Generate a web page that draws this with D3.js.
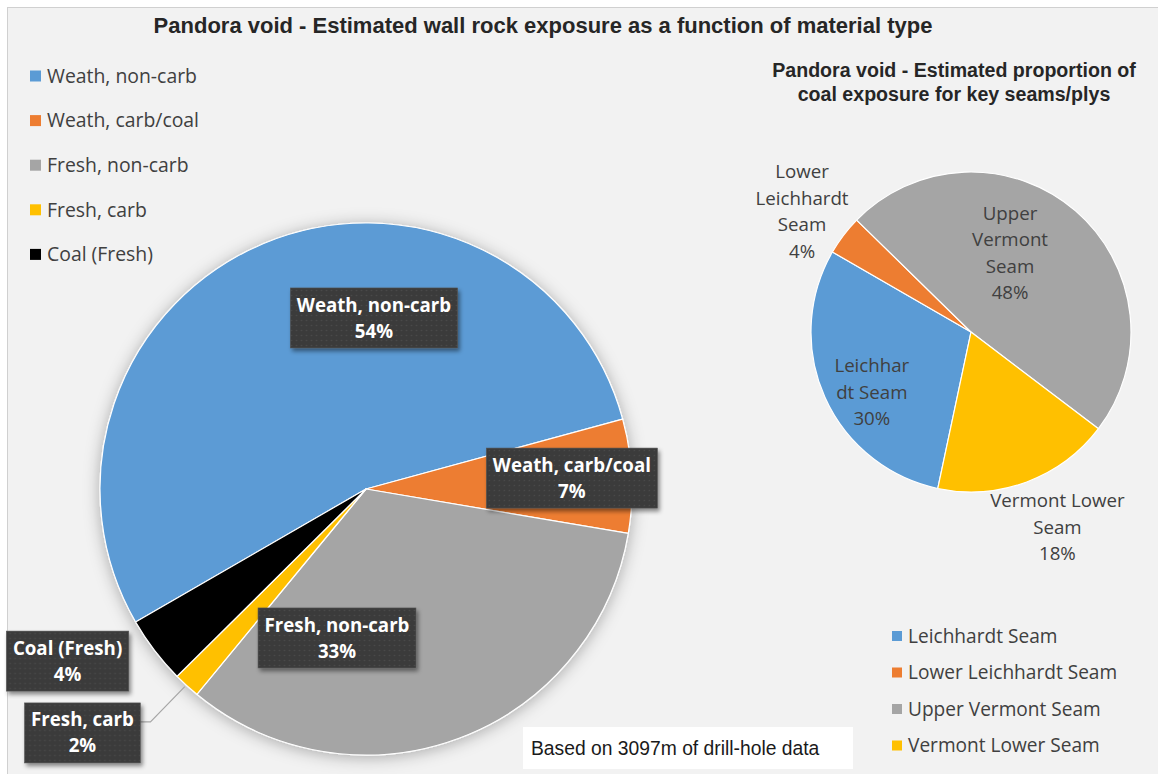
<!DOCTYPE html>
<html><head><meta charset="utf-8">
<script src="https://cdn.jsdelivr.net/npm/d3@7"></script>
<style>body{margin:0;background:#fff}svg{display:block}</style>
</head><body>
<svg id="chart" width="1158" height="774"></svg>
<script>
// ---------------- DATA ----------------
const mainTitle = "Pandora void - Estimated wall rock exposure as a function of material type";
const materialCategories = ["Weath, non-carb", "Weath, carb/coal", "Fresh, non-carb", "Fresh, carb", "Coal (Fresh)"];
const materialValues = [54.1, 6.9, 33.3, 1.6, 4.1];
const materialColors = ["#5B9BD5", "#ED7D31", "#A5A5A5", "#FFC000", "#000000"];

const seamTitle = ["Pandora void - Estimated proportion of", "coal exposure for key seams/plys"];
const seamCategories = ["Leichhardt Seam", "Lower Leichhardt Seam", "Upper Vermont Seam", "Vermont Lower Seam"];
const seamValues = [30, 4, 48, 18];
const seamColors = ["#5B9BD5", "#ED7D31", "#A5A5A5", "#FFC000"];
const seamLabelLines = [["Leichhar", "dt Seam"], ["Lower", "Leichhardt", "Seam"], ["Upper", "Vermont", "Seam"], ["Vermont Lower", "Seam"]];

const noteText = "Based on 3097m of drill-hole data";

// ---------------- LAYOUT ----------------
const W = 1158, H = 774;
const mainPie = {cx: 366, cy: 489, r: 266, start: 240};
// label box centres relative to pie centre, in radius units
const mainLabelPos = [[0.03, -0.643], [0.774, -0.041], [-0.109, 0.56], [-1.066, 0.917], [-1.122, 0.647]];
const seamPie = {cx: 971, cy: 332, r: 160, start: 192};
const seamLabelPos = [[-0.62, 0.375], [-1.056, -0.753], [0.244, -0.494], [0.54, 1.22]];

const sansUI = "'Open Sans', 'Noto Sans', sans-serif";
const sansArial = "'Liberation Sans', Arial, sans-serif";
const textColor = "#404040";

const svg = d3.select("#chart");
const defs = svg.append("defs");

// pattern for dark label boxes
const pat = defs.append("pattern").attr("id", "dots").attr("width", 5).attr("height", 5)
  .attr("patternUnits", "userSpaceOnUse");
pat.append("rect").attr("width", 5).attr("height", 5).attr("fill", "#3b3b3b");
pat.append("circle").attr("cx", 2.5).attr("cy", 2.5).attr("r", 0.8).attr("fill", "#4a4a4a");

const boxShadow = defs.append("filter").attr("id", "boxShadow").attr("x", "-20%").attr("y", "-20%").attr("width", "150%").attr("height", "150%");
boxShadow.append("feDropShadow").attr("dx", 2).attr("dy", 3).attr("stdDeviation", 2)
  .attr("flood-color", "#000").attr("flood-opacity", 0.45);

const pieShadow = defs.append("filter").attr("id", "pieShadow").attr("x", "-20%").attr("y", "-20%").attr("width", "140%").attr("height", "140%");
pieShadow.append("feDropShadow").attr("dx", 0).attr("dy", 2).attr("stdDeviation", 8)
  .attr("flood-color", "#000").attr("flood-opacity", 0.3);

// chart background
svg.append("rect").attr("x", 7.5).attr("y", 7.5).attr("width", W).attr("height", H)
  .attr("fill", "#F2F2F2").attr("stroke", "#D0D0D0").attr("stroke-width", 1);

// main title
svg.append("text").attr("x", 543).attr("y", 25).attr("dy", "0.35em")
  .attr("text-anchor", "middle").attr("font-family", sansArial).attr("font-weight", "bold")
  .attr("font-size", 22).attr("fill", "#262626").text(mainTitle);

// ---------------- MAIN PIE ----------------
const deg = Math.PI / 180;
const pieMain = d3.pie().sort(null).value(d => d)
  .startAngle(mainPie.start * deg).endAngle((mainPie.start + 360) * deg);
const arcsMain = pieMain(materialValues);
const arcMain = d3.arc().innerRadius(0).outerRadius(mainPie.r);
const colorMain = d3.scaleOrdinal().domain(materialCategories).range(materialColors);
const totalMain = d3.sum(materialValues);

const gMain = svg.append("g").attr("transform", `translate(${mainPie.cx},${mainPie.cy})`);
gMain.append("g").attr("filter", "url(#pieShadow)")
  .selectAll("path").data(arcsMain).join("path")
  .attr("d", arcMain).attr("fill", (d, i) => colorMain(materialCategories[i]))
  .attr("stroke", "#fff").attr("stroke-width", 1.2).attr("stroke-linejoin", "round");

// leader line for "Fresh, carb"
{
  const i = 3, a = arcsMain[i];
  const mid = (a.startAngle + a.endAngle) / 2;
  const px = mainPie.r * Math.sin(mid), py = -mainPie.r * Math.cos(mid);
  const bx = mainLabelPos[i][0] * mainPie.r, by = mainLabelPos[i][1] * mainPie.r;
  const ex = bx + 56;
  gMain.append("path").attr("d", `M${ex},${by - 11}L${ex + 12},${by - 11}L${px - 2},${py + 1}`)
    .attr("fill", "none").attr("stroke", "#A6A6A6").attr("stroke-width", 1.2);
}

// label boxes
const labelFont = 18.7;
const mainLabels = gMain.append("g").selectAll("g").data(arcsMain).join("g")
  .attr("transform", (d, i) => `translate(${mainLabelPos[i][0] * mainPie.r},${mainLabelPos[i][1] * mainPie.r})`);
mainLabels.each(function(d, i) {
  const g = d3.select(this);
  const rect = g.append("rect").attr("fill", "url(#dots)").attr("stroke", "#555").attr("stroke-width", 0.6)
    .attr("filter", "url(#boxShadow)");
  const t = g.append("text").attr("text-anchor", "middle").attr("font-family", sansUI)
    .attr("font-weight", "bold").attr("font-size", labelFont).attr("fill", "#FFFFFF");
  t.append("tspan").attr("x", 0).attr("y", -13).attr("dy", "0.35em").text(materialCategories[i]);
  t.append("tspan").attr("x", 0).attr("y", 13).attr("dy", "0.35em")
    .text(Math.round(d.data / totalMain * 100) + "%");
  const w = t.node().getBBox().width + 13;
  rect.attr("x", -w / 2).attr("y", -30).attr("width", w).attr("height", 60);
});

// main legend
const legMain = svg.append("g").selectAll("g").data(materialCategories).join("g")
  .attr("transform", (d, i) => `translate(30,${76 + i * 44.6})`);
legMain.append("rect").attr("x", 0).attr("y", -5.5).attr("width", 11).attr("height", 11)
  .attr("fill", d => colorMain(d));
legMain.append("text").attr("x", 17).attr("dy", "0.35em").attr("font-family", sansUI)
  .attr("font-size", 19.4).attr("fill", textColor).text(d => d);

// ---------------- SEAM PIE ----------------
svg.append("text").attr("text-anchor", "middle").attr("font-family", sansArial)
  .attr("font-weight", "bold").attr("font-size", 19.6).attr("fill", "#262626")
  .selectAll("tspan").data(seamTitle).join("tspan")
  .attr("x", 954).attr("y", (d, i) => 70 + i * 24.5).attr("dy", "0.35em").text(d => d);

const pieSeam = d3.pie().sort(null).value(d => d)
  .startAngle(seamPie.start * deg).endAngle((seamPie.start + 360) * deg);
const arcsSeam = pieSeam(seamValues);
const arcSeam = d3.arc().innerRadius(0).outerRadius(seamPie.r);
const colorSeam = d3.scaleOrdinal().domain(seamCategories).range(seamColors);
const totalSeam = d3.sum(seamValues);

const gSeam = svg.append("g").attr("transform", `translate(${seamPie.cx},${seamPie.cy})`);
gSeam.append("g").selectAll("path").data(arcsSeam).join("path")
  .attr("d", arcSeam).attr("fill", (d, i) => colorSeam(seamCategories[i]))
  .attr("stroke", "#fff").attr("stroke-width", 1.2).attr("stroke-linejoin", "round");

const seamLineH = 26.5;
gSeam.append("g").selectAll("text").data(arcsSeam).join("text")
  .attr("text-anchor", "middle").attr("font-family", sansUI).attr("font-size", 18.7)
  .attr("fill", textColor)
  .each(function(d, i) {
    const lines = seamLabelLines[i].concat([Math.round(d.data / totalSeam * 100) + "%"]);
    const cx = seamLabelPos[i][0] * seamPie.r, cy = seamLabelPos[i][1] * seamPie.r;
    const y0 = cy - (lines.length - 1) * seamLineH / 2;
    d3.select(this).selectAll("tspan").data(lines).join("tspan")
      .attr("x", cx).attr("y", (l, k) => y0 + k * seamLineH).attr("dy", "0.35em").text(l => l);
  });

// seam legend
const legSeam = svg.append("g").selectAll("g").data(seamCategories).join("g")
  .attr("transform", (d, i) => `translate(892,${636 + i * 36.5})`);
legSeam.append("rect").attr("x", 0).attr("y", -5).attr("width", 10).attr("height", 10)
  .attr("fill", d => colorSeam(d));
legSeam.append("text").attr("x", 16).attr("dy", "0.35em").attr("font-family", sansUI)
  .attr("font-size", 19.1).attr("fill", textColor).text(d => d);

// ---------------- NOTE ----------------
svg.append("rect").attr("x", 523).attr("y", 727).attr("width", 330).attr("height", 42).attr("fill", "#FFFFFF");
svg.append("text").attr("x", 531).attr("y", 748).attr("dy", "0.35em").attr("font-family", sansArial)
  .attr("font-size", 19.3).attr("fill", "#1a1a1a").text(noteText);
</script>
</body></html>
